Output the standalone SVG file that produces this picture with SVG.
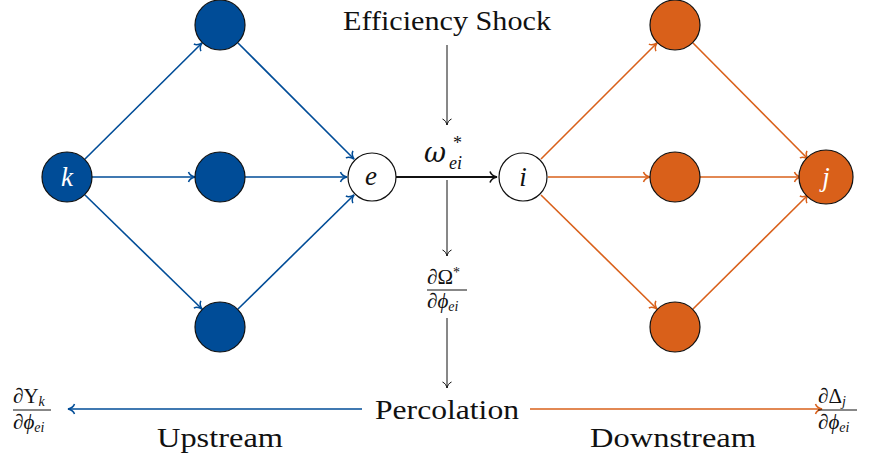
<svg xmlns="http://www.w3.org/2000/svg" width="883" height="461" viewBox="0 0 883 461">
<style>
.t{font-family:"Liberation Serif","DejaVu Serif",serif;fill:#111}
.big{font-size:27px}
.it{font-style:italic}
.frac{font-size:21px}
.sub{font-size:14px;font-style:italic}
.b{stroke:#004c97;stroke-width:1.6;fill:none}
.o{stroke:#d9601a;stroke-width:1.6;fill:none}
.k{stroke:#111;stroke-width:1;fill:none}
.nb{fill:#004c97;stroke:#111;stroke-width:1.2}
.no{fill:#d9601a;stroke:#111;stroke-width:1.2}
.nw{fill:#fff;stroke:#111;stroke-width:1.2}
</style>
<defs>
<marker id="ab" markerUnits="userSpaceOnUse" markerWidth="14" markerHeight="14" viewBox="-8 -7 10 14" refX="0" refY="0" orient="auto"><path d="M-6.5,-5 C-5.5,-2 -2.5,-0.6 0,0 C-2.5,0.6 -5.5,2 -6.5,5" fill="none" stroke="#004c97" stroke-width="1.5"/></marker>
<marker id="ao" markerUnits="userSpaceOnUse" markerWidth="14" markerHeight="14" viewBox="-8 -7 10 14" refX="0" refY="0" orient="auto"><path d="M-6.5,-5 C-5.5,-2 -2.5,-0.6 0,0 C-2.5,0.6 -5.5,2 -6.5,5" fill="none" stroke="#d9601a" stroke-width="1.5"/></marker>
<marker id="ak" markerUnits="userSpaceOnUse" markerWidth="14" markerHeight="14" viewBox="-8 -7 10 14" refX="0" refY="0" orient="auto"><path d="M-6,-4.5 C-5,-2 -2.5,-0.6 0,0 C-2.5,0.6 -5,2 -6,4.5" fill="none" stroke="#111" stroke-width="1"/></marker>
<marker id="akb" markerUnits="userSpaceOnUse" markerWidth="14" markerHeight="14" viewBox="-8 -7 10 14" refX="0" refY="0" orient="auto"><path d="M-7,-5.5 C-6,-2.5 -3,-0.7 0,0 C-3,0.7 -6,2.5 -7,5.5" fill="none" stroke="#111" stroke-width="1.6"/></marker>
</defs>
<g id="connectors">
<line class="b" x1="85" y1="159" x2="202" y2="43" marker-end="url(#ab)"/>
<line class="b" x1="92" y1="177" x2="195" y2="177" marker-end="url(#ab)"/>
<line class="b" x1="85" y1="195" x2="202" y2="309" marker-end="url(#ab)"/>
<line class="b" x1="238" y1="43" x2="354" y2="159" marker-end="url(#ab)"/>
<line class="b" x1="245" y1="177" x2="347" y2="177" marker-end="url(#ab)"/>
<line class="b" x1="238" y1="309" x2="354" y2="195" marker-end="url(#ab)"/>
<line class="o" x1="541" y1="159" x2="657" y2="43" marker-end="url(#ao)"/>
<line class="o" x1="548" y1="177" x2="650" y2="177" marker-end="url(#ao)"/>
<line class="o" x1="541" y1="195" x2="657" y2="309" marker-end="url(#ao)"/>
<line class="o" x1="693" y1="43" x2="808" y2="159" marker-end="url(#ao)"/>
<line class="o" x1="700" y1="177" x2="801" y2="177" marker-end="url(#ao)"/>
<line class="o" x1="693" y1="309" x2="808" y2="195" marker-end="url(#ao)"/>
<line x1="396" y1="177" x2="497" y2="177" stroke="#111" stroke-width="2" marker-end="url(#akb)"/>
<line class="k" x1="447" y1="45" x2="447" y2="125" marker-end="url(#ak)"/>
<line class="k" x1="447" y1="180" x2="447" y2="256" marker-end="url(#ak)"/>
<line class="k" x1="447" y1="318" x2="447" y2="388" marker-end="url(#ak)"/>
<line class="b" x1="362" y1="409" x2="68" y2="409" marker-end="url(#ab)"/>
<line class="o" x1="530" y1="409" x2="822" y2="409" marker-end="url(#ao)"/>
</g>
<g id="node-k"><circle class="nb" cx="67" cy="177" r="25"/><text class="t big it" x="67" y="186" text-anchor="middle" style="fill:#fff">k</text></g>
<g id="node-u1"><circle class="nb" cx="220" cy="25" r="25"/></g>
<g id="node-u2"><circle class="nb" cx="220" cy="177" r="25"/></g>
<g id="node-u3"><circle class="nb" cx="220" cy="327" r="25"/></g>
<g id="node-e"><circle class="nw" cx="372" cy="177" r="24"/><text class="t big it" x="371" y="185" text-anchor="middle">e</text></g>
<g id="node-i"><circle class="nw" cx="523" cy="177" r="24"/><text class="t big it" x="523" y="186" text-anchor="middle">i</text></g>
<g id="node-d1"><circle class="no" cx="675" cy="25" r="25"/></g>
<g id="node-d2"><circle class="no" cx="675" cy="177" r="25"/></g>
<g id="node-d3"><circle class="no" cx="675" cy="327" r="25"/></g>
<g id="node-j"><circle class="no" cx="826" cy="177" r="27"/><text class="t big it" x="826" y="186" text-anchor="middle" style="fill:#fff">j</text></g>
<g id="labels">
<text class="t big" x="343" y="30" textLength="208" lengthAdjust="spacingAndGlyphs">Efficiency Shock</text>
<text x="424" y="162" font-family="DejaVu Serif, serif" font-size="27" font-style="italic" fill="#111">ω</text>
<text class="t" x="453" y="149" font-size="18">*</text>
<text class="t" x="449" y="169" font-size="18" font-style="italic">ei</text>
<text class="t frac" x="427" y="284">∂Ω<tspan font-size="14" dy="-7">*</tspan></text>
<line x1="427" y1="290" x2="467" y2="290" stroke="#111" stroke-width="1"/>
<text class="t frac" x="427" y="308">∂<tspan font-style="italic">ϕ</tspan><tspan class="sub" dy="3">ei</tspan></text>
<text class="t big" x="375" y="419" textLength="144" lengthAdjust="spacingAndGlyphs">Percolation</text>
<text class="t big" x="157" y="447" textLength="126" lengthAdjust="spacingAndGlyphs">Upstream</text>
<text class="t big" x="590" y="447" textLength="166" lengthAdjust="spacingAndGlyphs">Downstream</text>
<text class="t frac" x="13" y="403">∂Υ<tspan class="sub" dy="3">k</tspan></text>
<line x1="13" y1="410" x2="51" y2="410" stroke="#111" stroke-width="1"/>
<text class="t frac" x="13" y="429">∂<tspan font-style="italic">ϕ</tspan><tspan class="sub" dy="3">ei</tspan></text>
<text class="t frac" x="818" y="403">∂Δ<tspan class="sub" dy="3">j</tspan></text>
<line x1="818" y1="410" x2="857" y2="410" stroke="#111" stroke-width="1"/>
<text class="t frac" x="818" y="429">∂<tspan font-style="italic">ϕ</tspan><tspan class="sub" dy="3">ei</tspan></text>
</g>
</svg>
